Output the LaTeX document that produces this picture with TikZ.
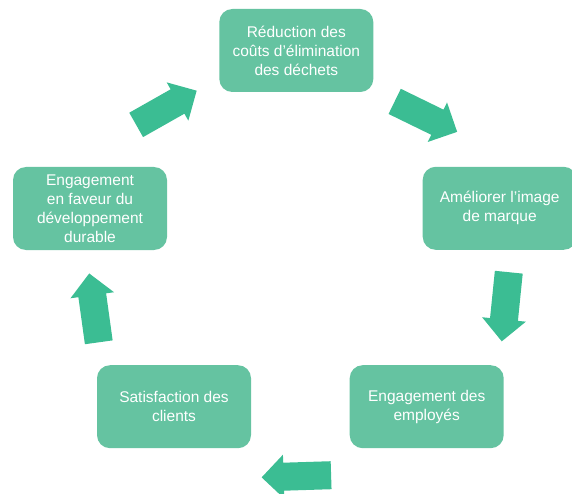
\documentclass[tikz,border=0pt]{standalone}
\usepackage{fontspec}
\setmainfont{Liberation Sans}
\usetikzlibrary{shapes.arrows}
\definecolor{boxgreen}{RGB}{101,195,161}
\definecolor{arrowgreen}{RGB}{59,189,147}
\tikzset{
x=1pt, y=-1pt, % one unit is one pixel, y runs downwards
stage/.style={rectangle, rounded corners=13pt, fill=boxgreen, text=white, minimum width=154pt, minimum height=83pt, align=center, font=\fontsize{15.5}{19}\selectfont}, % the boxes of the cycle
flow/.style={single arrow, fill=arrowgreen, inner xsep=0pt, inner ysep=13.8pt, single arrow head extend=8pt, minimum height=69.5pt, anchor=tail}, % the thick arrows between boxes
}
\begin{document}
\begin{tikzpicture}
                \useasboundingbox (0,0) rectangle (572,494);
                \node[stage] (cost) at (296.3,50.5) {Réduction des\\coûts d’élimination\\des déchets};
                \node[stage] (brand) at (499.7,208.3) {Améliorer l’image\\de marque};
                \node[stage] (staff) at (426.7,406.7) {Engagement des\\employés};
                \node[stage] (clients) at (174,406.7) {Satisfaction des\\clients};
                \node[stage] (durable) at (90,208.5) {Engagement\\en faveur du\\développement\\durable};
                \node[flow, rotate=29.5] (a1) at (136,125) {};
                \node[flow, rotate=-26] (a2) at (394.5,101.3) {};
                \node[flow, rotate=-95.8] (a3) at (508.8,272) {};
                \node[flow, rotate=181.8] (a4) at (331.3,475.2) {};
                \node[flow, rotate=97.9] (a5) at (98.8,342.5) {};
                \end{tikzpicture}
\end{document}
